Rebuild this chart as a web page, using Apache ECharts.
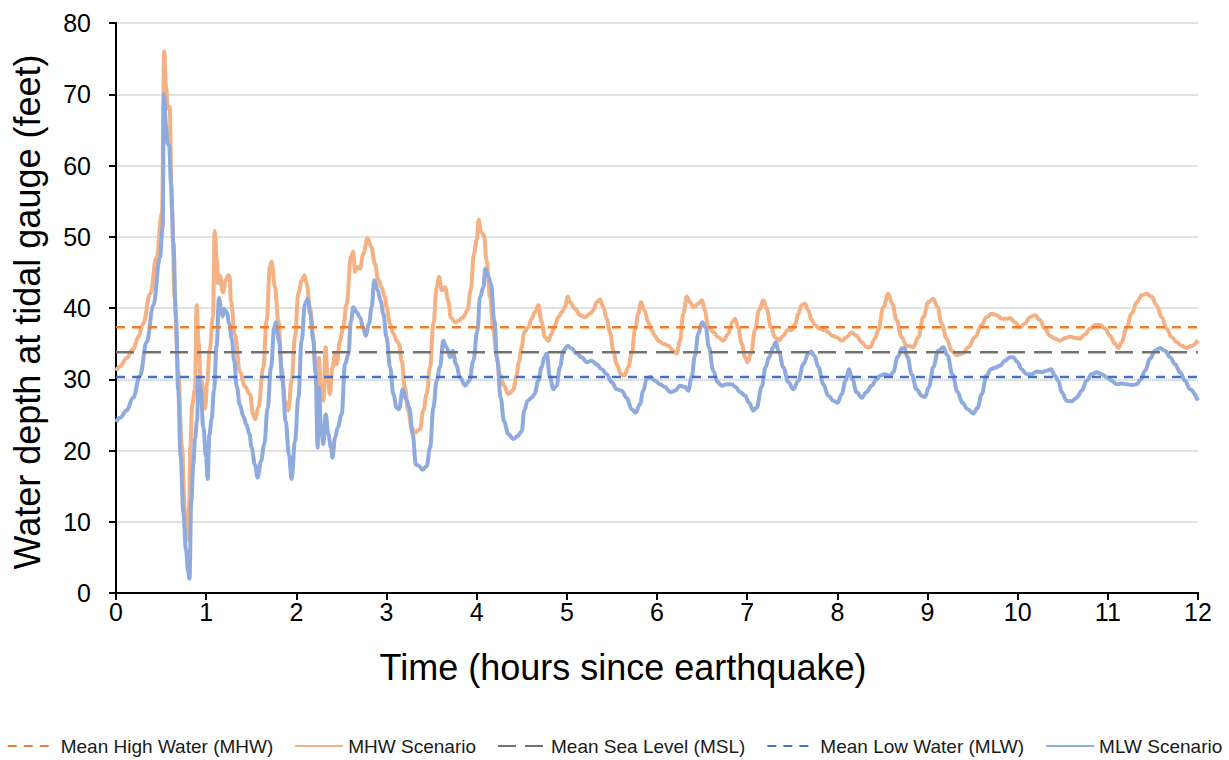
<!DOCTYPE html>
<html>
<head>
<meta charset="utf-8">
<script src="https://cdn.jsdelivr.net/npm/echarts@6/dist/echarts.min.js"></script>
<style>
html,body{margin:0;padding:0;background:#fff;}
#chart{width:1229px;height:760px;}
</style>
</head>
<body>
<div id="chart"></div>
<script>
// Time in hours since earthquake, water depth in feet
const xTicks = [0,1,2,3,4,5,6,7,8,9,10,11,12];
const yTicks = [0,10,20,30,40,50,60,70,80];

const seriesNames = ['Mean High Water (MHW)','MHW Scenario','Mean Sea Level (MSL)','Mean Low Water (MLW)','MLW Scenario'];
const xTitle = 'Time (hours since earthquake)';
const yTitle = 'Water depth at tidal gauge (feet)';

const meanHighWater = 37.3;
const meanSeaLevel = 33.8;
const meanLowWater = 30.3;

const mhwScenario = [
[0,31.2],[0.044,31.8],[0.12,33.0],[0.19,34.2],[0.25,36.0],[0.30,37.8],[0.38,42.0],[0.45,47.1],[0.51,53.4],[0.535,76.0],
[0.555,71.0],[0.575,68.0],[0.595,68.2],[0.62,54.0],[0.65,41.4],[0.69,31.0],[0.73,20.7],[0.765,11.5],[0.79,7.5],[0.81,12.0],
[0.825,20.7],[0.845,26.4],[0.875,28.5],[0.895,40.4],[0.915,35.2],[0.94,30.0],[0.99,25.9],[1.01,29.5],[1.04,34.2],[1.075,38.8],
[1.095,50.8],[1.12,46.6],[1.13,43.5],[1.15,44.6],[1.185,42.2],[1.22,44.0],[1.245,44.6],[1.26,44.5],[1.275,40.9],[1.32,36.2],
[1.375,31.0],[1.43,29.0],[1.486,27.9],[1.52,25.1],[1.545,24.4],[1.578,26.0],[1.634,31.7],[1.67,38.2],[1.708,45.8],[1.726,46.5],
[1.763,43.0],[1.80,38.2],[1.837,31.7],[1.874,27.0],[1.91,25.6],[1.948,29.8],[1.985,35.9],[2.022,42.0],[2.06,43.9],[2.09,44.6],
[2.115,43.4],[2.15,40.1],[2.19,35.9],[2.21,31.7],[2.236,28.8],[2.25,33.0],[2.273,27.9],[2.30,27.0],[2.325,34.5],[2.347,29.8],
[2.373,27.9],[2.40,31.7],[2.43,33.5],[2.447,32.1],[2.484,35.4],[2.52,37.3],[2.558,40.6],[2.606,47.2],[2.632,47.9],[2.65,45.1],
[2.68,45.8],[2.706,45.5],[2.743,47.6],[2.79,49.8],[2.83,48.6],[2.872,46.2],[2.91,43.9],[2.946,42.9],[2.983,41.5],[3.0,40.1],
[3.04,37.8],[3.076,36.4],[3.113,35.4],[3.14,34.9],[3.168,32.6],[3.205,28.8],[3.24,25.6],[3.279,23.2],[3.316,22.5],[3.372,23.0],
[3.408,25.6],[3.445,27.9],[3.483,31.7],[3.52,37.8],[3.556,42.9],[3.582,44.4],[3.612,42.5],[3.649,42.9],[3.686,41.0],[3.712,38.7],
[3.76,38.0],[3.797,38.2],[3.852,38.7],[3.897,39.7],[3.934,42.5],[3.97,47.6],[4.0,49.5],[4.022,52.4],[4.048,50.7],[4.081,50.2],
[4.11,46.7],[4.148,41.5],[4.185,36.8],[4.222,33.1],[4.259,30.7],[4.303,29.1],[4.351,27.9],[4.407,28.5],[4.44,30.5],[4.47,32.5],
[4.499,34.5],[4.528,36.6],[4.573,37.3],[4.61,38.5],[4.647,39.4],[4.684,40.4],[4.721,38.0],[4.758,35.9],[4.795,35.4],[4.832,36.4],
[4.869,37.6],[4.906,38.7],[4.943,39.4],[4.98,40.1],[5.009,41.6],[5.035,40.8],[5.09,39.9],[5.146,39.0],[5.2,38.7],[5.257,39.2],
[5.294,39.7],[5.33,40.8],[5.368,41.2],[5.405,40.1],[5.442,38.5],[5.479,36.6],[5.516,34.0],[5.553,32.1],[5.6,30.7],[5.638,30.5],
[5.682,31.7],[5.72,33.6],[5.756,36.9],[5.793,39.2],[5.822,40.8],[5.86,39.7],[5.904,38.0],[5.94,36.9],[5.978,36.1],[6.015,35.4],
[6.07,35.0],[6.126,34.7],[6.18,34.0],[6.218,33.6],[6.255,35.4],[6.292,39.2],[6.329,41.6],[6.366,40.8],[6.403,40.1],[6.458,40.6],
[6.50,41.1],[6.53,39.7],[6.569,37.3],[6.624,36.6],[6.68,35.9],[6.735,35.4],[6.79,36.4],[6.835,38.0],[6.865,38.5],[6.9,37.3],
[6.94,35.0],[6.976,33.1],[7.005,32.4],[7.042,33.6],[7.087,36.9],[7.131,39.7],[7.18,41.1],[7.216,39.9],[7.264,37.3],[7.308,35.9],
[7.353,35.4],[7.4,36.1],[7.449,36.9],[7.493,36.9],[7.53,37.6],[7.567,39.2],[7.604,40.4],[7.641,40.6],[7.678,39.7],[7.715,38.3],
[7.752,37.6],[7.807,37.1],[7.862,36.9],[7.9,36.6],[7.944,36.1],[7.992,35.9],[8.048,35.4],[8.103,35.9],[8.159,36.6],[8.214,36.1],
[8.27,35.2],[8.325,34.5],[8.362,34.5],[8.417,35.7],[8.454,36.9],[8.51,40.1],[8.565,42.0],[8.609,40.6],[8.657,38.3],[8.713,35.9],
[8.768,34.7],[8.842,34.5],[8.898,35.9],[8.953,38.7],[9.008,40.8],[9.064,41.3],[9.112,40.1],[9.156,37.8],[9.212,35.7],[9.267,34.0],
[9.323,33.4],[9.386,33.6],[9.452,34.5],[9.526,35.9],[9.6,37.6],[9.655,38.7],[9.711,39.2],[9.766,39.0],[9.822,38.5],[9.877,38.5],
[9.914,38.6],[9.97,38.0],[10.025,37.3],[10.08,37.8],[10.136,38.7],[10.191,39.0],[10.247,38.3],[10.302,37.1],[10.358,36.1],[10.414,35.7],
[10.47,35.4],[10.525,35.8],[10.58,36.0],[10.636,35.8],[10.69,35.7],[10.747,36.3],[10.802,37.1],[10.857,37.6],[10.913,37.6],[10.969,37.1],
[11.024,36.1],[11.08,35.0],[11.116,34.4],[11.153,35.2],[11.209,37.3],[11.264,39.2],[11.32,40.8],[11.375,41.8],[11.43,42.0],[11.486,41.6],
[11.54,40.4],[11.597,38.7],[11.652,37.1],[11.708,35.9],[11.763,35.2],[11.819,34.7],[11.874,34.4],[11.93,34.7],[12.0,35.5]
];

const mlwScenario = [
[0,24.0],[0.044,24.6],[0.118,25.6],[0.19,27.4],[0.266,30.5],[0.34,35.2],[0.414,40.4],[0.488,47.1],[0.517,51.3],[0.532,70.0],
[0.555,65.8],[0.57,63.2],[0.59,62.7],[0.61,57.5],[0.636,49.2],[0.665,38.8],[0.69,28.5],[0.717,19.1],[0.747,11.3],[0.776,6.1],
[0.80,3.0],[0.815,2.0],[0.835,12.9],[0.858,18.1],[0.876,21.7],[0.90,24.3],[0.913,30.3],[0.939,28.5],[0.968,23.3],[0.998,19.1],
[1.017,16.0],[1.035,22.2],[1.06,24.3],[1.087,28.5],[1.116,34.7],[1.142,41.4],[1.165,39.9],[1.183,38.8],[1.2,39.9],[1.227,39.4],
[1.257,37.8],[1.283,35.7],[1.312,32.6],[1.338,29.0],[1.375,26.4],[1.412,24.8],[1.45,23.5],[1.48,22.3],[1.504,20.4],[1.541,18.0],
[1.571,16.2],[1.608,18.5],[1.645,20.9],[1.682,26.0],[1.719,31.7],[1.756,37.3],[1.774,38.0],[1.808,35.4],[1.845,29.8],[1.882,24.1],
[1.918,19.4],[1.948,16.0],[1.985,21.3],[2.022,27.4],[2.059,35.4],[2.096,40.6],[2.126,41.3],[2.155,39.2],[2.188,35.4],[2.214,30.7],
[2.236,20.4],[2.251,28.8],[2.273,23.2],[2.30,20.9],[2.325,25.1],[2.355,22.3],[2.384,20.4],[2.40,19.0],[2.43,21.8],[2.458,23.2],
[2.503,25.1],[2.54,32.1],[2.577,33.5],[2.606,38.2],[2.632,40.1],[2.669,39.4],[2.706,38.7],[2.743,37.1],[2.769,36.1],[2.806,37.8],
[2.835,40.1],[2.865,43.9],[2.902,42.5],[2.935,41.0],[2.965,39.2],[3.0,35.9],[3.04,31.7],[3.076,27.9],[3.113,26.0],[3.14,25.8],
[3.18,28.6],[3.216,27.2],[3.253,26.0],[3.29,22.3],[3.327,18.0],[3.364,17.8],[3.40,17.3],[3.445,17.8],[3.483,20.4],[3.52,26.0],
[3.556,29.8],[3.593,31.7],[3.63,35.4],[3.667,34.5],[3.704,33.1],[3.734,34.0],[3.771,32.1],[3.815,30.3],[3.871,29.1],[3.919,29.8],
[3.963,32.6],[4.008,36.8],[4.037,41.5],[4.074,42.9],[4.096,45.5],[4.13,44.4],[4.159,43.4],[4.196,38.2],[4.229,32.6],[4.266,27.4],
[4.303,24.1],[4.351,22.3],[4.407,21.6],[4.451,22.0],[4.499,22.7],[4.528,25.6],[4.565,27.0],[4.61,27.4],[4.64,27.9],[4.684,29.8],
[4.721,31.7],[4.75,33.1],[4.776,33.6],[4.813,30.3],[4.85,28.6],[4.887,29.1],[4.924,31.7],[4.961,34.0],[5.009,34.7],[5.054,34.3],
[5.109,33.6],[5.164,33.1],[5.22,32.4],[5.275,32.6],[5.33,32.1],[5.386,31.4],[5.442,30.7],[5.497,29.6],[5.553,28.6],[5.608,28.4],
[5.663,27.4],[5.719,25.8],[5.763,25.3],[5.811,26.5],[5.848,28.4],[5.885,30.0],[5.922,30.3],[5.978,29.8],[6.033,29.3],[6.089,28.9],
[6.144,28.2],[6.2,28.4],[6.255,29.1],[6.31,28.9],[6.347,28.4],[6.384,30.3],[6.421,33.3],[6.458,36.4],[6.502,38.0],[6.54,37.3],
[6.576,34.5],[6.624,31.2],[6.672,29.6],[6.717,29.1],[6.772,29.3],[6.828,29.3],[6.872,28.9],[6.92,28.2],[6.976,27.7],[7.02,26.7],
[7.068,25.6],[7.105,26.0],[7.16,28.9],[7.205,31.7],[7.242,33.1],[7.29,34.5],[7.316,35.2],[7.353,33.8],[7.4,31.7],[7.456,29.6],
[7.512,28.6],[7.567,29.8],[7.623,32.1],[7.678,33.6],[7.708,33.9],[7.745,33.3],[7.79,31.7],[7.844,29.3],[7.9,27.7],[7.955,27.0],
[8.003,26.7],[8.048,27.9],[8.092,29.8],[8.129,31.4],[8.166,30.0],[8.214,28.2],[8.27,27.4],[8.325,28.2],[8.38,29.1],[8.436,30.0],
[8.472,30.5],[8.528,30.7],[8.583,30.5],[8.62,31.0],[8.668,33.1],[8.713,34.3],[8.742,34.4],[8.779,33.1],[8.824,30.7],[8.879,28.6],
[8.935,27.7],[8.972,27.5],[9.016,28.9],[9.064,31.7],[9.119,34.0],[9.175,34.5],[9.223,33.3],[9.275,30.7],[9.334,28.2],[9.386,26.7],
[9.445,25.8],[9.508,25.2],[9.556,26.0],[9.6,27.9],[9.655,30.5],[9.703,31.4],[9.748,31.6],[9.803,31.9],[9.859,32.6],[9.914,33.1],
[9.951,33.1],[9.999,32.4],[10.043,31.4],[10.099,30.7],[10.154,30.7],[10.21,31.1],[10.265,31.0],[10.321,31.2],[10.369,31.4],[10.414,30.5],
[10.451,29.8],[10.488,28.2],[10.543,27.0],[10.599,26.9],[10.654,27.4],[10.71,28.4],[10.765,29.8],[10.82,30.7],[10.876,31.0],[10.932,30.7],
[10.987,30.3],[11.042,29.8],[11.098,29.3],[11.153,29.4],[11.209,29.3],[11.264,29.2],[11.32,29.3],[11.368,30.0],[11.412,31.2],[11.468,32.9],
[11.523,34.0],[11.579,34.4],[11.634,34.0],[11.69,33.1],[11.745,32.1],[11.8,31.0],[11.856,29.8],[11.911,28.6],[12.0,27.0]
];

const FONT = "'Liberation Sans', Arial, sans-serif";
const chart = echarts.init(document.getElementById('chart'), null, {renderer: 'svg'});

function flat(v){ return [[xTicks[0], v],[xTicks[xTicks.length-1], v]]; }

chart.setOption({
  animation: false,
  backgroundColor: '#ffffff',
  textStyle: {fontFamily: FONT},
  grid: {left: 116, right: 31, top: 23, bottom: 167, containLabel: false},
  legend: {
    top: 736, left: 'center',
    itemWidth: 48, itemHeight: 14, itemGap: 21, padding: 0,
    itemStyle: {opacity: 0},
    textStyle: {fontFamily: FONT, fontSize: 19, lineHeight: 20, color: '#1a1a1a'},
    data: seriesNames
  },
  graphic: [{
    type: 'text', x: 27, y: 312, rotation: Math.PI / 2, silent: true,
    style: {text: yTitle, font: "36px 'Liberation Sans', Arial, sans-serif", fill: '#000', align: 'center', verticalAlign: 'middle'}
  }],
  xAxis: [{
    type: 'value', min: 0, max: 12, interval: 1,
    name: xTitle, nameLocation: 'middle', nameGap: 56,
    nameTextStyle: {fontFamily: FONT, fontSize: 36, color: '#000', padding: [0, 68, 0, 0]},
    axisLine: {show: true, lineStyle: {color: '#000', width: 2}},
    axisTick: {show: true, inside: false, length: 7, lineStyle: {color: '#000', width: 2}},
    axisLabel: {fontFamily: FONT, fontSize: 25, color: '#000', margin: 6},
    splitLine: {show: false}
  },{
    type: 'value', min: 0, max: 12, position: 'top',
    axisLine: {show: true, lineStyle: {color: '#000', width: 2}},
    axisTick: {show: false}, axisLabel: {show: false}, splitLine: {show: false}
  }],
  yAxis: [{
    type: 'value', min: 0, max: 80, interval: 10,
    axisLine: {show: true, lineStyle: {color: '#000', width: 2}},
    axisTick: {show: true, inside: false, length: 7, lineStyle: {color: '#000', width: 2}},
    axisLabel: {fontFamily: FONT, fontSize: 25, color: '#000', margin: 25},
    splitLine: {show: true, lineStyle: {color: '#d9d9d9', width: 1.5}}
  },{
    type: 'value', min: 0, max: 80, position: 'right',
    axisLine: {show: true, lineStyle: {color: '#000', width: 2}},
    axisTick: {show: false}, axisLabel: {show: false}, splitLine: {show: false}
  }],
  series: [
    {name: seriesNames[0], type: 'line', data: flat(meanHighWater), symbol: 'none', z: 3,
     lineStyle: {color: '#ED7D31', width: 2.5, type: [9, 7]}, itemStyle: {color: '#ED7D31'}},
    {name: seriesNames[1], type: 'line', data: mhwScenario, symbol: 'none', smooth: 0.4, smoothMonotone: 'x', z: 2,
     lineStyle: {color: '#F4B183', width: 4}, itemStyle: {color: '#F4B183'}},
    {name: seriesNames[2], type: 'line', data: flat(meanSeaLevel), symbol: 'none', z: 3,
     lineStyle: {color: '#767171', width: 2.5, type: [18, 9]}, itemStyle: {color: '#767171'}},
    {name: seriesNames[3], type: 'line', data: flat(meanLowWater), symbol: 'none', z: 3,
     lineStyle: {color: '#4472C4', width: 2.5, type: [9, 7]}, itemStyle: {color: '#4472C4'}},
    {name: seriesNames[4], type: 'line', data: mlwScenario, symbol: 'none', smooth: 0.4, smoothMonotone: 'x', z: 2,
     lineStyle: {color: '#8FAADC', width: 4}, itemStyle: {color: '#8FAADC'}}
  ]
});
</script>
</body>
</html>
